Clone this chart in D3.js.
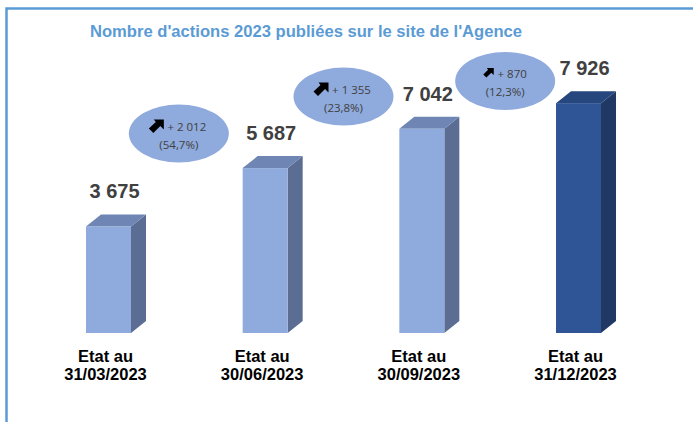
<!DOCTYPE html>
<html>
<head>
<meta charset="utf-8">
<script src="https://cdn.jsdelivr.net/npm/d3@7"></script>
<style>
  html, body { margin: 0; padding: 0; background: #fff; }
  svg { display: block; }
</style>
</head>
<body>
<div id="chart"></div>
<script>
// Data
const periods = ['31/03/2023', '30/06/2023', '30/09/2023', '31/12/2023']
const actions = [3675, 5687, 7042, 7926]
const gains = [2012, 1355, 870]
const gainPct = [54.7, 23.8, 12.3]

const width = 693
const height = 422
const barW = 45
const depthX = 15
const depthY = 12

const fr = d3.formatLocale({ decimal: ',', thousands: ' ', grouping: [3], currency: ['', ' €'] })
const fmtInt = fr.format(',d')
const fmtPct = fr.format('.1f')

const svg = d3.select('#chart').append('svg')
    .attr('width', width)
    .attr('height', height)

// frame (only top and left edges are visible)
svg.append('path')
  .attr('d', `M6.5,${height} L6.5,8.5 L${width},8.5`)
  .attr('fill', 'none')
  .attr('stroke', '#5b9bd5')
  .attr('stroke-width', 2.5)

svg.append('text')
  .attr('x', 306)
  .attr('y', 37)
  .attr('text-anchor', 'middle')
  .style('font', 'bold 16.6px "Liberation Sans", Arial, sans-serif')
  .style('fill', '#5b9bd5')
  .text("Nombre d'actions 2023 publiées sur le site de l'Agence")

const x = d3.scalePoint().domain(periods).range([108.5, 578.5])
const y = d3.scaleLinear().domain([0, 8000]).range([333, 101])

// colours: front / top / side
const light = ['#8faadc', '#6f86b4', '#5b6d93']
const dark = ['#2f5597', '#26467e', '#203864']

const bars = svg.append('g').attr('class', 'bars')
  .selectAll('g')
  .data(periods.map((p, i) => ({ p, v: actions[i], c: i === periods.length - 1 ? dark : light })))
  .join('g')

bars.append('path') // side
  .attr('d', d => {
    let x1 = x(d.p) + barW / 2
    let y0 = y(0)
    let y1 = y(d.v)
    return `M${x1},${y0} L${x1},${y1} L${x1 + depthX},${y1 - depthY} L${x1 + depthX},${y0 - depthY} Z`
  })
  .attr('fill', d => d.c[2])

bars.append('path') // top
  .attr('d', d => {
    let x0 = x(d.p) - barW / 2
    let y1 = y(d.v)
    return `M${x0},${y1} L${x0 + depthX},${y1 - depthY} L${x0 + barW + depthX},${y1 - depthY} L${x0 + barW},${y1} Z`
  })
  .attr('fill', d => d.c[1])

bars.append('rect') // front
  .attr('x', d => x(d.p) - barW / 2)
  .attr('y', d => y(d.v))
  .attr('width', barW)
  .attr('height', d => y(0) - y(d.v))
  .attr('fill', d => d.c[0])

bars.append('text')
  .attr('x', d => x(d.p) + 6)
  .attr('y', d => y(d.v) - 28)
  .attr('text-anchor', 'middle')
  .style('font', 'bold 20px "Liberation Sans", Arial, sans-serif')
  .style('fill', '#404040')
  .text(d => fmtInt(d.v))

// category labels
let cat = svg.append('g').attr('class', 'axis-x')
  .selectAll('text')
  .data(periods)
  .join('text')
  .attr('text-anchor', 'middle')
  .attr('transform', d => `translate(${x(d) - 3}, 362)`)
  .style('font', 'bold 16.5px "Liberation Sans", Arial, sans-serif')
  .style('fill', '#000')
cat.append('tspan').attr('x', 0).text('Etat au')
cat.append('tspan').attr('x', 0).attr('dy', '1.1em').text(d => d)

// growth bubbles between consecutive bars
const bubbleY = [133.5, 96.5, 81]
const arrowPath = 'M-2,-7 L8,-7 L8,3 L4.5,-0.5 L-2.5,6.5 L-7,2 L0,-4.5 Z'

let bubbles = svg.append('g').attr('class', 'bubbles')
  .selectAll('g')
  .data(gains.map((g, i) => ({ g, pct: gainPct[i], i })))
  .join('g')
  .attr('transform', d => `translate(${(x(periods[d.i]) + x(periods[d.i + 1])) / 2 - (d.i === 0 ? 8 : d.i === 2 ? -5 : 0)}, ${bubbleY[d.i]})`)

bubbles.append('ellipse')
  .attr('rx', 50)
  .attr('ry', 29)
  .attr('fill', '#8faadc')

bubbles.append('path')
  .attr('d', arrowPath)
  .attr('transform', d => d.i === 2 ? 'translate(-17,-8) scale(0.7)' : 'translate(-23,-7)')
  .attr('fill', '#000')

bubbles.append('text')
  .attr('x', d => d.i === 2 ? 7 : 8)
  .attr('y', -3)
  .attr('text-anchor', 'middle')
  .style('font', '11.5px "Open Sans", "Noto Sans", sans-serif')
  .style('fill', '#404040')
  .text(d => '+ ' + fmtInt(d.g))

bubbles.append('text')
  .attr('x', 0)
  .attr('y', 15)
  .attr('text-anchor', 'middle')
  .style('font', '11.5px "Open Sans", "Noto Sans", sans-serif')
  .style('fill', '#404040')
  .text(d => '(' + fmtPct(d.pct) + '%)')
</script>
</body>
</html>
